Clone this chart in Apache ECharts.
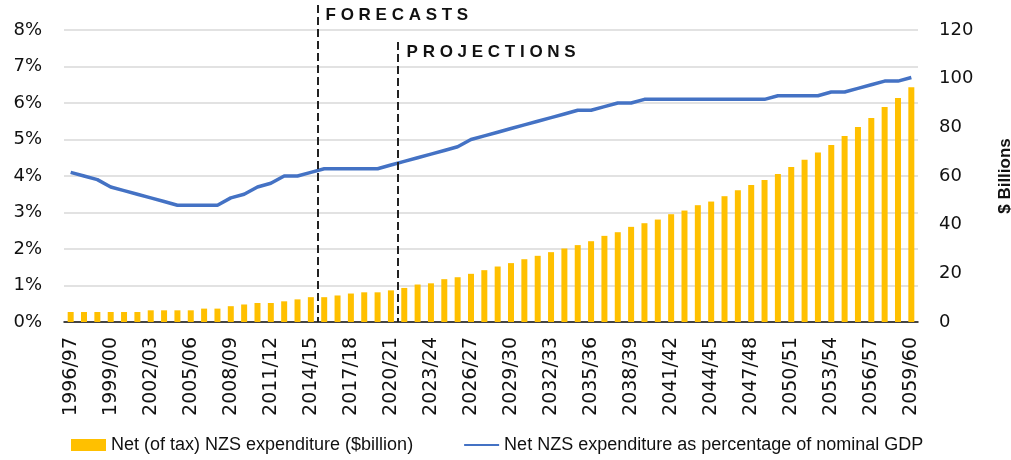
<!DOCTYPE html>
<html>
<head>
<meta charset="utf-8">
<script src="https://cdn.jsdelivr.net/npm/echarts@6/dist/echarts.min.js"></script>
<style>
  html, body { margin: 0; padding: 0; background: #fff; }
  #chart { width: 1011px; height: 460px; }
</style>
</head>
<body>
<div id="chart"></div>
<script>
// financial years 1996/97 .. 2059/60
const years = [];
for (let y = 1996; y <= 2059; y++) {
  years.push(y + "/" + String((y + 1) % 100).padStart(2, "0"));
}

// Net (of tax) NZS expenditure, $billion (right axis)
const netSpend = [
  4.1, 4.1, 4.1, 4.1, 4.1, 4.1, 4.8, 4.8, 4.8, 4.8,
  5.5, 5.5, 6.5, 7.2, 7.8, 7.8, 8.5, 9.3, 10.2, 10.2,
  10.9, 11.7, 12.2, 12.2, 13.0, 14.0, 15.4, 15.9, 17.6, 18.4,
  19.8, 21.3, 22.8, 24.2, 25.8, 27.2, 28.7, 30.2, 31.6, 33.2,
  35.4, 36.9, 39.1, 40.6, 42.1, 44.3, 45.8, 48.0, 49.5, 51.7,
  54.1, 56.3, 58.4, 60.8, 63.7, 66.7, 69.7, 72.7, 76.4, 80.1,
  83.8, 88.4, 92.1, 96.5
];

// Net NZS expenditure as % of nominal GDP (left axis)
const pctGdp = [
  4.1, 4.0, 3.9, 3.7, 3.6, 3.5, 3.4, 3.3, 3.2, 3.2,
  3.2, 3.2, 3.4, 3.5, 3.7, 3.8, 4.0, 4.0, 4.1, 4.2,
  4.2, 4.2, 4.2, 4.2, 4.3, 4.4, 4.5, 4.6, 4.7, 4.8,
  5.0, 5.1, 5.2, 5.3, 5.4, 5.5, 5.6, 5.7, 5.8, 5.8,
  5.9, 6.0, 6.0, 6.1, 6.1, 6.1, 6.1, 6.1, 6.1, 6.1,
  6.1, 6.1, 6.1, 6.2, 6.2, 6.2, 6.2, 6.3, 6.3, 6.4,
  6.5, 6.6, 6.6, 6.7
];

// dashed lines sit between these years
const forecastAfter = "2014/15";
const projectionAfter = "2020/21";

const axisFont = "DejaVu Sans";
const textFont = "Liberation Sans";

const chart = echarts.init(document.getElementById("chart"));

chart.setOption({
  animation: false,
  grid: { left: 64, right: 93, top: 30, bottom: 138, outerBoundsMode: "none", containLabel: false },
  legend: {
    left: 66,
    top: 431,
    itemWidth: 35,
    itemHeight: 12,
    itemGap: 50,
    textStyle: { fontFamily: textFont, fontSize: 18, color: "#111" },
    data: [
      { name: "Net (of tax) NZS expenditure ($billion)", icon: "rect" },
      { name: "Net NZS expenditure as percentage of nominal GDP", itemStyle: { opacity: 0 } }
    ]
  },
  xAxis: {
    type: "category",
    data: years,
    axisTick: { show: false },
    axisLine: { lineStyle: { color: "#111", width: 1.5 } },
    axisLabel: {
      interval: 2,
      rotate: 90,
      margin: 15,
      fontFamily: axisFont,
      fontSize: 19,
      color: "#111"
    }
  },
  yAxis: [
    {
      type: "value",
      min: 0, max: 8, interval: 1,
      axisLine: { show: false },
      axisTick: { show: false },
      axisLabel: { formatter: "{value}%", margin: 22, fontFamily: axisFont, fontSize: 18, color: "#111" },
      splitLine: { lineStyle: { color: "#d9d9d9", width: 1.5 } }
    },
    {
      type: "value",
      min: 0, max: 120, interval: 20,
      position: "right",
      name: "$ Billions",
      nameLocation: "middle",
      nameRotate: 90,
      nameGap: 79,
      nameTextStyle: { fontFamily: textFont, fontSize: 17, fontWeight: "bold", color: "#111" },
      axisLine: { show: false },
      axisTick: { show: false },
      axisLabel: { margin: 21, fontFamily: axisFont, fontSize: 18, color: "#111" },
      splitLine: { show: false }
    }
  ],
  series: [
    {
      name: "Net (of tax) NZS expenditure ($billion)",
      type: "bar",
      yAxisIndex: 1,
      data: netSpend,
      barWidth: 6,
      itemStyle: { color: "#FFC000" }
    },
    {
      name: "Net NZS expenditure as percentage of nominal GDP",
      type: "line",
      yAxisIndex: 0,
      data: pctGdp,
      symbol: "none",
      lineStyle: { color: "#4472C4", width: 3.5 },
      itemStyle: { color: "#4472C4" }
    }
  ]
});

// x pixel halfway between a year and the next one
function boundaryX(label) {
  const i = years.indexOf(label);
  const a = chart.convertToPixel({ xAxisIndex: 0 }, i);
  const b = chart.convertToPixel({ xAxisIndex: 0 }, i + 1);
  return (a + b) / 2;
}
const fx = boundaryX(forecastAfter);
const px = boundaryX(projectionAfter);
const zeroY = chart.convertToPixel({ yAxisIndex: 1 }, 0);

const annoStyle = { fontFamily: textFont, fontSize: 17, fontWeight: "bold", fill: "#111", textVerticalAlign: "middle" };
chart.setOption({
  series: [{
    markLine: {
      silent: true,
      symbol: "none",
      label: { show: false },
      lineStyle: { color: "#222", width: 2, type: [8, 4] },
      data: [
        [{ x: fx, y: 5 }, { x: fx, y: zeroY }],
        [{ x: px, y: 42 }, { x: px, y: zeroY }]
      ]
    }
  }],
  graphic: [
    { type: "text", left: fx + 8, top: 7, style: Object.assign({ text: "F O R E C A S T S" }, annoStyle) },
    { type: "text", left: px + 9, top: 44, style: Object.assign({ text: "P R O J E C T I O N S" }, annoStyle) }
  ]
});
</script>
</body>
</html>
